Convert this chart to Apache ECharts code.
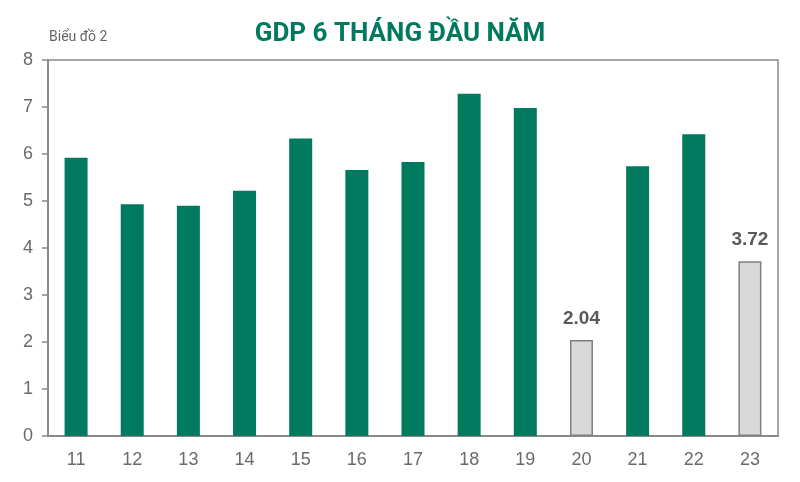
<!DOCTYPE html>
<html><head><meta charset="utf-8">
<script src="https://cdn.jsdelivr.net/npm/echarts@6/dist/echarts.min.js"></script>
<style>html,body{margin:0;padding:0;background:#fff}#c{width:800px;height:482px}</style>
</head><body><div id="c"></div>
<script>
const categories = ['11','12','13','14','15','16','17','18','19','20','21','22','23'];
const gdpValues = [5.92, 4.93, 4.90, 5.22, 6.33, 5.66, 5.83, 7.28, 6.98, 2.04, 5.74, 6.42, 3.72];
const highlighted = ['20','23'];
const yTicks = [0,1,2,3,4,5,6,7,8];

const green = '#007a5e';
const chart = echarts.init(document.getElementById('c'));
chart.setOption({
  backgroundColor: '#fff',
  animation: false,
  title: [
    { text: 'GDP 6 THÁNG ĐẦU NĂM', left: 'center', top: 16,
      textStyle: { color: green, fontSize: 26, fontWeight: 'bold', fontFamily: 'Roboto' } },
    { text: 'Biểu đồ 2', left: 44, top: 25,
      textStyle: { color: '#666', fontSize: 14, fontWeight: 'normal', fontFamily: 'Roboto' } }
  ],
  grid: { left: 48, right: 22, top: 60, bottom: 46, show: true, borderColor: '#8a8a8a', borderWidth: 1.5 },
  xAxis: {
    type: 'category', data: categories,
    axisLine: { lineStyle: { color: '#8a8a8a', width: 2 } },
    axisTick: { show: false },
    axisLabel: { color: '#6a6a6a', fontSize: 18, fontFamily: 'Arial, Liberation Sans', margin: 15 }
  },
  yAxis: {
    type: 'value', min: 0, max: 8, interval: 1,
    axisLine: { show: true, lineStyle: { color: '#8a8a8a', width: 2 } },
    axisTick: { show: true, length: 6, lineStyle: { color: '#8a8a8a', width: 1.5 } },
    splitLine: { show: false },
    axisLabel: { color: '#6a6a6a', fontSize: 18, fontFamily: 'Arial, Liberation Sans', margin: 15,
      formatter: v => yTicks.includes(v) ? String(v) : '' }
  },
  series: [{
    type: 'bar', barWidth: 23,
    data: gdpValues.map((v, i) => {
      const hl = highlighted.includes(categories[i]);
      return {
        value: v,
        itemStyle: hl ? { color: '#d9d9d9', borderColor: '#7f7f7f', borderWidth: 1.5 } : { color: green },
        label: hl ? { show: true, position: 'top', distance: 12, formatter: p => p.value.toFixed(2),
          color: '#595959', fontSize: 19, fontWeight: 'bold', fontFamily: 'Arial, Liberation Sans' } : { show: false }
      };
    })
  }]
});
</script></body></html>
